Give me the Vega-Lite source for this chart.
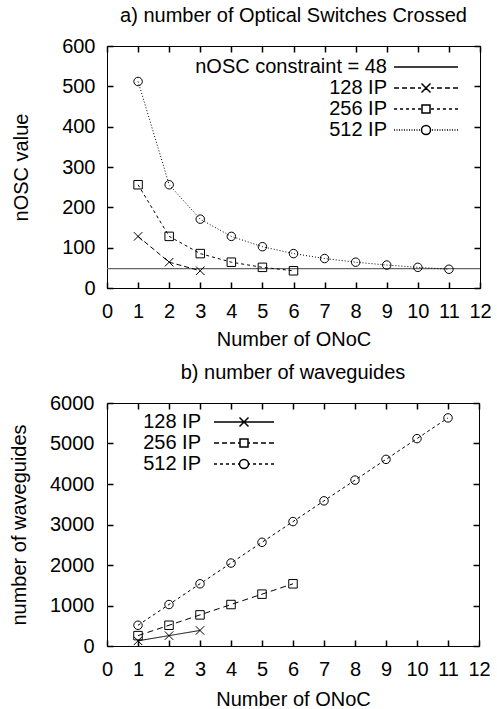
{
  "$schema": "https://vega.github.io/schema/vega-lite/v6.json",
  "padding": {"left": 9, "top": 5, "right": 0, "bottom": 0},
  "config": {
    "font": "Liberation Sans",
    "view": {"stroke": "black", "strokeWidth": 1},
    "axis": {
      "domain": false, "ticks": false,
      "gridColor": "black", "gridWidth": 1.5, "gridOpacity": 1, "gridCap": "butt",
      "labelFontSize": 20, "labelColor": "black", "labelFlush": false, "labelOverlap": false,
      "titleFontSize": 20, "titleFontWeight": "normal", "titleColor": "black"
    },
    "legend": {
      "orient": "none", "padding": 0, "title": null,
      "labelFontSize": 20, "labelColor": "black", "labelAlign": "right", "labelLimit": 0,
      "symbolSize": 4, "rowPadding": 1
    },
    "title": {"fontSize": 20, "fontWeight": "normal", "color": "black", "anchor": "middle", "offset": 10}
  },
  "datasets": {
    "constraint": [{"series": "nOSC constraint = 48", "nosc": 48}],
    "nosc": [
      {"series": "128 IP", "onoc": 1, "nosc": 128},
      {"series": "128 IP", "onoc": 2, "nosc": 64},
      {"series": "128 IP", "onoc": 3, "nosc": 42.7},
      {"series": "256 IP", "onoc": 1, "nosc": 256},
      {"series": "256 IP", "onoc": 2, "nosc": 128},
      {"series": "256 IP", "onoc": 3, "nosc": 85.3},
      {"series": "256 IP", "onoc": 4, "nosc": 64},
      {"series": "256 IP", "onoc": 5, "nosc": 51.2},
      {"series": "256 IP", "onoc": 6, "nosc": 42.7},
      {"series": "512 IP", "onoc": 1, "nosc": 512},
      {"series": "512 IP", "onoc": 2, "nosc": 256},
      {"series": "512 IP", "onoc": 3, "nosc": 170.7},
      {"series": "512 IP", "onoc": 4, "nosc": 128},
      {"series": "512 IP", "onoc": 5, "nosc": 102.4},
      {"series": "512 IP", "onoc": 6, "nosc": 85.3},
      {"series": "512 IP", "onoc": 7, "nosc": 73.1},
      {"series": "512 IP", "onoc": 8, "nosc": 64},
      {"series": "512 IP", "onoc": 9, "nosc": 56.9},
      {"series": "512 IP", "onoc": 10, "nosc": 51.2},
      {"series": "512 IP", "onoc": 11, "nosc": 46.5}
    ],
    "wg": [
      {"series": "128 IP", "onoc": 1, "waveguides": 128},
      {"series": "128 IP", "onoc": 2, "waveguides": 256},
      {"series": "128 IP", "onoc": 3, "waveguides": 384},
      {"series": "256 IP", "onoc": 1, "waveguides": 256},
      {"series": "256 IP", "onoc": 2, "waveguides": 512},
      {"series": "256 IP", "onoc": 3, "waveguides": 768},
      {"series": "256 IP", "onoc": 4, "waveguides": 1024},
      {"series": "256 IP", "onoc": 5, "waveguides": 1280},
      {"series": "256 IP", "onoc": 6, "waveguides": 1536},
      {"series": "512 IP", "onoc": 1, "waveguides": 512},
      {"series": "512 IP", "onoc": 2, "waveguides": 1024},
      {"series": "512 IP", "onoc": 3, "waveguides": 1536},
      {"series": "512 IP", "onoc": 4, "waveguides": 2048},
      {"series": "512 IP", "onoc": 5, "waveguides": 2560},
      {"series": "512 IP", "onoc": 6, "waveguides": 3072},
      {"series": "512 IP", "onoc": 7, "waveguides": 3584},
      {"series": "512 IP", "onoc": 8, "waveguides": 4096},
      {"series": "512 IP", "onoc": 9, "waveguides": 4608},
      {"series": "512 IP", "onoc": 10, "waveguides": 5120},
      {"series": "512 IP", "onoc": 11, "waveguides": 5632}
    ]
  },
  "concat": [
    {
      "width": 373,
      "height": 242,
      "title": {"text": "a) number of Optical Switches Crossed"},
      "layer": [
        {
          "data": {"name": "constraint"},
          "mark": {"type": "rule", "color": "#666", "strokeWidth": 1.2},
          "encoding": {
            "y": {"field": "nosc", "type": "quantitative", "scale": {"domain": [0, 600], "nice": false}, "axis": null},
            "strokeDash": {"field": "series", "type": "nominal",
              "scale": {"domain": ["nOSC constraint = 48", "128 IP", "256 IP", "512 IP"], "range": [[1, 0], [5, 3], [3, 3], [1, 2]]}, "legend": null}
          }
        },
        {
          "data": {"name": "nosc"},
          "mark": {"type": "line", "color": "black", "strokeWidth": 1},
          "encoding": {
            "x": {"field": "onoc", "type": "quantitative", "title": "Number of ONoC",
              "scale": {"domain": [0, 12], "nice": false},
              "axis": {"values": [0,1,2,3,4,5,6,7,8,9,10,11,12], "labelPadding": 13, "titlePadding": 8,
                "grid": true, "gridDash": [6, 230, 6, 1000], "zindex": 1}},
            "y": {"field": "nosc", "type": "quantitative", "title": "nOSC value",
              "scale": {"domain": [0, 600], "nice": false},
              "axis": {"values": [0,100,200,300,400,500,600], "labelPadding": 12, "titlePadding": 30,
                "grid": true, "gridDash": [6, 361, 6, 1000], "zindex": 1}},
            "strokeDash": {"field": "series", "type": "nominal",
              "scale": {"domain": ["nOSC constraint = 48", "128 IP", "256 IP", "512 IP"], "range": [[1, 0], [5, 3], [3, 3], [1, 2]]},
              "legend": null}
          }
        },
        {
          "data": {"name": "nosc"},
          "mark": {"type": "point", "filled": false, "stroke": "black", "strokeWidth": 1, "size": 72, "opacity": 1},
          "encoding": {
            "x": {"field": "onoc", "type": "quantitative", "scale": {"domain": [0, 12], "nice": false}, "axis": null},
            "y": {"field": "nosc", "type": "quantitative", "scale": {"domain": [0, 600], "nice": false}, "axis": null},
            "shape": {"field": "series", "type": "nominal",
              "scale": {"domain": ["128 IP", "256 IP", "512 IP"], "range": ["M-1,-1L1,1M-1,1L1,-1", "square", "circle"]},
              "legend": null}
          }
        },
        {
          "data": {"name": "nosc"},
          "mark": {"type": "point", "filled": false, "stroke": "black", "strokeWidth": 1, "size": 0, "opacity": 1},
          "encoding": {
            "x": {"field": "onoc", "type": "quantitative", "scale": {"domain": [0, 12], "nice": false}, "axis": null},
            "y": {"field": "nosc", "type": "quantitative", "scale": {"domain": [0, 600], "nice": false}, "axis": null},
            "shape": {"field": "series", "type": "nominal",
              "scale": {"domain": ["nOSC constraint = 48", "128 IP", "256 IP", "512 IP"],
                "range": [
                  "M-32,0L32,0",
                  "M-32,0L-27,0M-24,0L-19,0M-16,0L-11,0M-8,0L-5,0M5,0L8,0M11,0L16,0M19,0L24,0M27,0L32,0M-4.5,-4.5L4.5,4.5M-4.5,4.5L4.5,-4.5",
                  "M-32,0L-29,0M-26,0L-23,0M-20,0L-17,0M-14,0L-11,0M-8,0L-5,0M5,0L8,0M11,0L14,0M17,0L20,0M23,0L26,0M29,0L32,0M-4,-4L4,-4L4,4L-4,4Z",
                  "M-32,0L-31,0M-29.5,0L-28.5,0M-27,0L-26,0M-24.5,0L-23.5,0M-22,0L-21,0M-19.5,0L-18.5,0M-17,0L-16,0M-14.5,0L-13.5,0M-12,0L-11,0M-9.5,0L-8.5,0M-7,0L-6,0M6,0L7,0M8.5,0L9.5,0M11,0L12,0M13.5,0L14.5,0M16,0L17,0M18.5,0L19.5,0M21,0L22,0M23.5,0L24.5,0M26,0L27,0M28.5,0L29.5,0M31,0L32,0M-4.5,0A4.5,4.5 0 1,0 4.5,0A4.5,4.5 0 1,0 -4.5,0"
                ]},
              "legend": {
                "legendX": 309, "legendY": 11, "symbolOffset": 0, "labelOffset": -49,
                "encode": {"symbols": {
                  "size": {"value": 4},
                  "stroke": {"value": "black"},
                  "fill": {"value": "transparent"},
                  "strokeWidth": {"value": 1},
                  "opacity": {"value": 1}
                }}
              }}
          }
        }
      ],
      "resolve": {"axis": {"x": "independent", "y": "independent"}, "scale": {"shape": "independent"}, "legend": {"shape": "independent"}}
    },
    {
      "width": 372,
      "height": 243,
      "title": {"text": "b) number of waveguides"},
      "layer": [
        {
          "data": {"name": "wg"},
          "mark": {"type": "line", "color": "black", "strokeWidth": 1},
          "encoding": {
            "x": {"field": "onoc", "type": "quantitative", "title": "Number of ONoC",
              "scale": {"domain": [0, 12], "nice": false},
              "axis": {"values": [0,1,2,3,4,5,6,7,8,9,10,11,12], "labelPadding": 13, "titlePadding": 10,
                "grid": true, "gridDash": [6, 231, 6, 1000], "zindex": 1}},
            "y": {"field": "waveguides", "type": "quantitative", "title": "number of waveguides",
              "scale": {"domain": [0, 6000], "nice": false},
              "axis": {"values": [0,1000,2000,3000,4000,5000,6000], "format": "d", "labelPadding": 13, "titlePadding": 20,
                "grid": true, "gridDash": [6, 360, 6, 1000], "zindex": 1}},
            "strokeDash": {"field": "series", "type": "nominal",
              "scale": {"domain": ["128 IP", "256 IP", "512 IP"], "range": [[1, 0], [6, 4], [3, 3]]},
              "legend": null}
          }
        },
        {
          "data": {"name": "wg"},
          "mark": {"type": "point", "filled": false, "stroke": "black", "strokeWidth": 1, "size": 72, "opacity": 1},
          "encoding": {
            "x": {"field": "onoc", "type": "quantitative", "scale": {"domain": [0, 12], "nice": false}, "axis": null},
            "y": {"field": "waveguides", "type": "quantitative", "scale": {"domain": [0, 6000], "nice": false}, "axis": null},
            "shape": {"field": "series", "type": "nominal",
              "scale": {"domain": ["128 IP", "256 IP", "512 IP"], "range": ["M-1,-1L1,1M-1,1L1,-1", "square", "circle"]},
              "legend": null}
          }
        },
        {
          "data": {"name": "wg"},
          "mark": {"type": "point", "filled": false, "stroke": "black", "strokeWidth": 1, "size": 0, "opacity": 1},
          "encoding": {
            "x": {"field": "onoc", "type": "quantitative", "scale": {"domain": [0, 12], "nice": false}, "axis": null},
            "y": {"field": "waveguides", "type": "quantitative", "scale": {"domain": [0, 6000], "nice": false}, "axis": null},
            "shape": {"field": "series", "type": "nominal",
              "scale": {"domain": ["128 IP", "256 IP", "512 IP"],
                "range": [
                  "M-30,0L30,0M-4.5,-4.5L4.5,4.5M-4.5,4.5L4.5,-4.5",
                  "M-30,0L-25,0M-22,0L-17,0M-14,0L-9,0M-6,0L-4,0M4,0L6,0M9,0L14,0M17,0L22,0M25,0L30,0M-4,-4L4,-4L4,4L-4,4Z",
                  "M-30,0L-27,0M-24,0L-21,0M-18,0L-15,0M-12,0L-9,0M-6,0L-4.5,0M4.5,0L6,0M9,0L12,0M15,0L18,0M21,0L24,0M27,0L30,0M-4.5,0A4.5,4.5 0 1,0 4.5,0A4.5,4.5 0 1,0 -4.5,0"
                ]},
              "legend": {
                "legendX": 127, "legendY": 9, "symbolOffset": 0, "labelOffset": -53,
                "encode": {"symbols": {
                  "size": {"value": 4},
                  "stroke": {"value": "black"},
                  "fill": {"value": "transparent"},
                  "strokeWidth": {"value": 1},
                  "opacity": {"value": 1}
                }}
              }}
          }
        }
      ],
      "resolve": {"axis": {"x": "independent", "y": "independent"}, "scale": {"shape": "independent"}, "legend": {"shape": "independent"}}
    }
  ],
  "columns": 1,
  "align": "none",
  "spacing": 12,
  "resolve": {
    "scale": {"x": "independent", "y": "independent", "strokeDash": "independent", "shape": "independent"},
    "legend": {"strokeDash": "independent", "shape": "independent"}
  }
}
